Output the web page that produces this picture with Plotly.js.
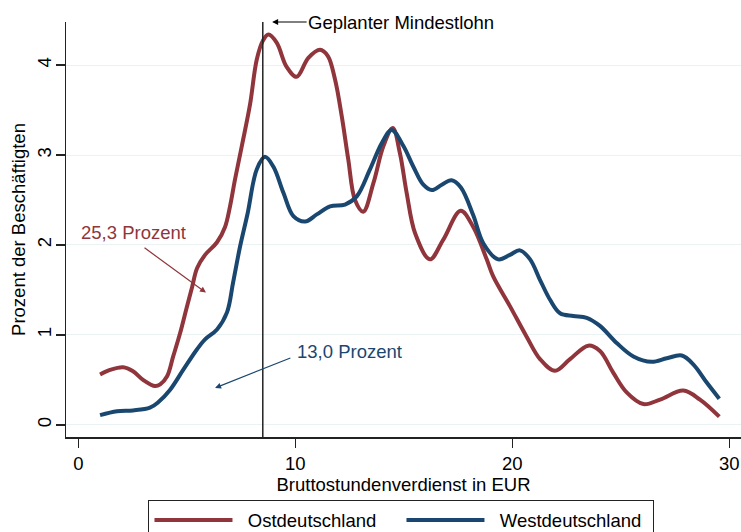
<!DOCTYPE html>
<html>
<head>
<meta charset="utf-8">
<script src="https://cdn.plot.ly/plotly-3.0.1.min.js"></script>
<style>html,body{margin:0;padding:0;background:#fff;}#chart{width:741px;height:532px;}</style>
</head>
<body>
<div id="chart"></div>
<script>
// Bruttostundenverdienst (EUR) and share of employees (%)
const wageOst = [1.0, 1.46, 2.06, 2.52, 2.98, 3.54, 3.77, 4.09, 4.37, 4.69, 5.0, 5.24, 5.47, 5.84, 6.39, 6.76, 6.99, 7.22, 7.55, 7.91, 8.22, 8.5, 8.76, 9.14, 9.6, 10.06, 10.6, 11.14, 11.5, 11.83, 12.14, 12.44, 12.75, 13.13, 13.6, 14.06, 14.49, 14.82, 15.13, 15.52, 16.2, 16.82, 17.62, 18.2, 18.82, 19.12, 19.89, 20.66, 21.28, 21.97, 22.66, 23.5, 24.04, 24.65, 25.27, 26.04, 26.81, 27.88, 28.65, 29.54];
const densOst = [0.56, 0.61, 0.64, 0.595, 0.50, 0.43, 0.45, 0.54, 0.76, 1.02, 1.31, 1.53, 1.74, 1.89, 2.03, 2.2, 2.43, 2.73, 3.12, 3.56, 4.06, 4.27, 4.34, 4.25, 3.98, 3.87, 4.08, 4.17, 4.1, 3.84, 3.43, 2.95, 2.5, 2.37, 2.69, 3.1, 3.3, 3.02, 2.58, 2.13, 1.84, 2.06, 2.38, 2.2, 1.84, 1.65, 1.32, 0.98, 0.73, 0.60, 0.73, 0.88, 0.82, 0.58, 0.36, 0.23, 0.28, 0.38, 0.28, 0.09];
const wageWest = [1.0, 1.78, 2.52, 3.3, 3.68, 4.23, 4.83, 5.47, 5.84, 6.39, 6.85, 7.13, 7.45, 7.8, 8.22, 8.6, 8.99, 9.45, 9.91, 10.45, 10.99, 11.6, 12.29, 12.83, 13.44, 13.98, 14.44, 14.98, 15.44, 15.9, 16.29, 16.75, 17.2, 17.63, 18.2, 18.66, 19.35, 19.89, 20.35, 20.82, 21.28, 21.74, 22.2, 22.81, 23.43, 24.04, 24.81, 25.58, 26.42, 27.12, 27.81, 28.35, 28.96, 29.54];
const densWest = [0.107, 0.15, 0.16, 0.19, 0.25, 0.39, 0.61, 0.84, 0.95, 1.06, 1.25, 1.58, 1.98, 2.35, 2.84, 2.98, 2.87, 2.58, 2.32, 2.26, 2.34, 2.43, 2.45, 2.54, 2.84, 3.13, 3.28, 3.1, 2.87, 2.67, 2.61, 2.67, 2.72, 2.64, 2.33, 2.02, 1.84, 1.89, 1.94, 1.84, 1.61, 1.39, 1.24, 1.21, 1.19, 1.1, 0.91, 0.76, 0.70, 0.74, 0.77, 0.67, 0.47, 0.29];
const seriesNames = ['Ostdeutschland', 'Westdeutschland'];
const mindestlohn = 8.5;
const xTicks = [0, 10, 20, 30];
const yTicks = [0, 1, 2, 3, 4];

const RED = '#90353b', BLUE = '#1a476f';
const FONT = 'Arial, "Liberation Sans", sans-serif';
const FS = 18.5;
const LEGEND_PAD = '\u00a0\u00a0';

const traces = [
  {x: wageOst, y: densOst, name: LEGEND_PAD + seriesNames[0], type: 'scatter', mode: 'lines',
   line: {color: RED, width: 4, shape: 'spline', smoothing: 1}},
  {x: wageWest, y: densWest, name: LEGEND_PAD + seriesNames[1], type: 'scatter', mode: 'lines',
   line: {color: BLUE, width: 4, shape: 'spline', smoothing: 1}}
];

const layout = {
  width: 741, height: 532,
  margin: {l: 66, r: 0, t: 22, b: 94.5, autoexpand: false},
  paper_bgcolor: '#fff', plot_bgcolor: '#fff',
  font: {family: FONT, size: FS, color: '#000'},
  showlegend: true,
  xaxis: {
    range: [-0.57, 30.54], tickvals: xTicks, ticktext: xTicks.map(String),
    ticks: 'outside', ticklen: 9, tickwidth: 1.5, tickcolor: '#222',
    showline: true, linecolor: '#222', linewidth: 1.5, mirror: false,
    showgrid: false, zeroline: false,
    tickfont: {family: FONT, size: FS, color: '#000'},
    title: {text: 'Bruttostundenverdienst in EUR', font: {family: FONT, size: FS, color: '#000'}, standoff: 1}
  },
  yaxis: {
    range: [-0.136, 4.48], tickvals: yTicks, ticktext: yTicks.map(String),
    ticks: 'outside', ticklen: 9, tickwidth: 1.5, tickcolor: '#222', tickangle: -90,
    ticklabelstandoff: -3,
    showline: true, linecolor: '#222', linewidth: 1.5,
    showgrid: true, gridcolor: '#eaf2f3', gridwidth: 1, zeroline: false,
    tickfont: {family: FONT, size: FS, color: '#000'},
    title: {text: 'Prozent der Beschäftigten', font: {family: FONT, size: FS, color: '#000'}, standoff: 3}
  },
  legend: {
    orientation: 'h', x: 0.497, xanchor: 'center', y: -0.153, yanchor: 'top',
    bordercolor: '#222', borderwidth: 1, bgcolor: '#fff',
    font: {family: FONT, size: FS, color: '#000'},
    itemwidth: 78, entrywidth: 159, traceorder: 'normal'
  },
  shapes: [
    {type: 'line', xref: 'x', yref: 'paper', x0: mindestlohn, x1: mindestlohn, y0: 0, y1: 1,
     line: {color: '#222', width: 1.5}}
  ],
  annotations: [
    {xref: 'x', yref: 'paper', x: 8.93, y: 1, text: 'Geplanter Mindestlohn', showarrow: true,
     ax: 129, ay: 0, arrowhead: 2, arrowsize: 1, arrowwidth: 1.2, arrowcolor: '#000',
     font: {family: FONT, size: FS, color: '#000'}},
    {xref: 'x', yref: 'y', x: 2.53, y: 2.14, text: '25,3 Prozent', showarrow: false,
     font: {family: FONT, size: FS, color: RED}},
    {xref: 'x', yref: 'y', x: 5.88, y: 1.47, axref: 'x', ayref: 'y', ax: 2.98, ay: 1.98, text: '',
     showarrow: true, arrowhead: 2, arrowsize: 1, arrowwidth: 1.2, arrowcolor: RED},
    {xref: 'x', yref: 'y', x: 12.5, y: 0.81, text: '13,0 Prozent', showarrow: false,
     font: {family: FONT, size: FS, color: BLUE}},
    {xref: 'x', yref: 'y', x: 6.3, y: 0.41, axref: 'x', ayref: 'y', ax: 9.84, ay: 0.75, text: '',
     showarrow: true, arrowhead: 2, arrowsize: 1, arrowwidth: 1.2, arrowcolor: BLUE}
  ]
};

Plotly.newPlot('chart', traces, layout, {displayModeBar: false, staticPlot: true});
</script>
</body>
</html>
